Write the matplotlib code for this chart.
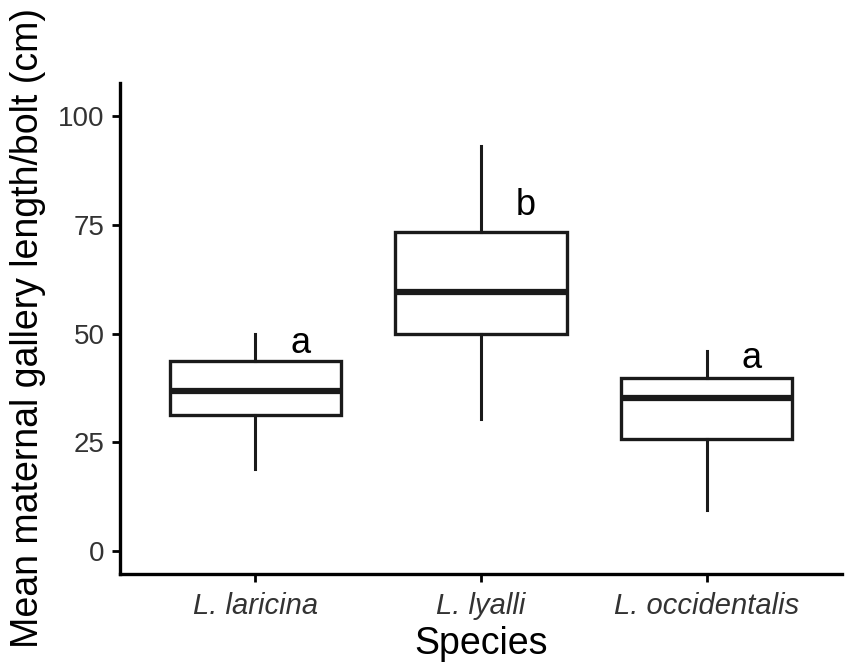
import matplotlib
matplotlib.use("Agg")
import matplotlib.pyplot as plt

# values
species = ["L. laricina", "L. lyalli", "L. occidentalis"]
whislo = [19.0, 30.3, 9.6]
q1 = [31.4, 49.8, 25.7]
med = [36.7, 59.6, 35.3]
q3 = [43.6, 73.2, 39.9]
whishi = [50.0, 93.1, 45.9]
letters = ["a", "b", "a"]
letter_y = [45.6, 77.1, 42.0]

plt.rcParams["font.family"] = ["Liberation Sans", "DejaVu Sans"]

fig = plt.figure(figsize=(8.51, 6.70), dpi=100)
ax = fig.add_axes([120 / 851, 1 - 574 / 670, 722 / 851, (574 - 83) / 670])

stats = []
for i in range(len(species)):
    stats.append({"whislo": whislo[i], "q1": q1[i], "med": med[i],
                  "q3": q3[i], "whishi": whishi[i], "fliers": [],
                  "label": species[i]})

pos = list(range(1, len(species) + 1))
ax.bxp(stats, positions=pos, widths=0.76, showcaps=False, showfliers=False,
       patch_artist=True,
       boxprops=dict(facecolor="white", edgecolor="#1a1a1a", linewidth=2.4),
       whiskerprops=dict(color="#1a1a1a", linewidth=2.2),
       medianprops=dict(color="#1a1a1a", linewidth=4.5, solid_capstyle="butt"))

for p, t, y in zip(pos, letters, letter_y):
    ax.text(p + 0.2, y, t, ha="center", va="baseline", fontsize=26, color="black")

ax.set_xlim(0.4, 3.6)
ax.set_ylim(-5.2, 107.5)
ax.set_yticks([0, 25, 50, 75, 100])
ax.set_xticks(pos)
ax.set_xticklabels(species, fontstyle="italic")

for s in ["top", "right"]:
    ax.spines[s].set_visible(False)
for s in ["left", "bottom"]:
    ax.spines[s].set_linewidth(2.4)
    ax.spines[s].set_color("black")

ax.tick_params(axis="both", labelsize=20, colors="black", labelcolor="#333333",
               length=6, width=2, pad=5)
ax.tick_params(axis="x", labelsize=21, pad=7)

ax.set_xlabel("Species", fontsize=27, labelpad=4)
ax.set_ylabel("Mean maternal gallery length/bolt (cm)", fontsize=27, labelpad=9)

fig.savefig("out.png", dpi=100)
